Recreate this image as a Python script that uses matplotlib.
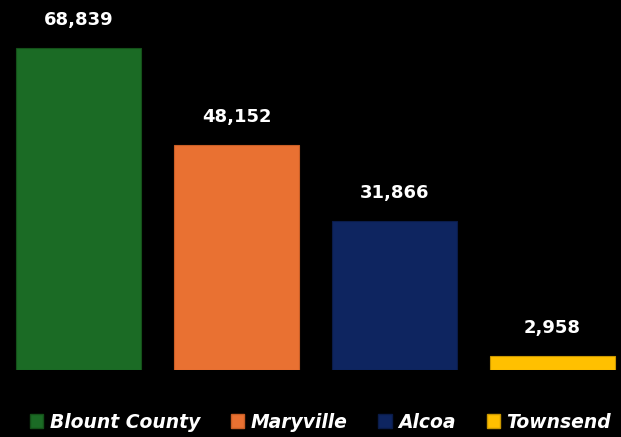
import matplotlib.pyplot as plt
from matplotlib.patches import Patch

places = ['Blount County', 'Maryville', 'Alcoa', 'Townsend']
population = [68839, 48152, 31866, 2958]
colors = ['#1b6b25', '#e97132', '#0e2560', '#ffc000']
edges = ['#145019', '#c95e25', '#0a1b48', '#c99700']

W, H = 621, 437
fig = plt.figure(figsize=(W / 100, H / 100), dpi=100, facecolor='black')
ax = fig.add_axes([0, (H - 370) / H, 1, 370 / H])
ax.set_facecolor('black')

x = range(len(places))
bars = ax.bar(x, population, width=0.785, color=colors, edgecolor=edges, linewidth=0.8)

for xi, v in zip(x, population):
    ax.annotate(f'{v:,}', (xi, v), xytext=(0, 20), textcoords='offset points',
                ha='center', va='center', color='white', fontsize=13,
                fontweight='bold', family='DejaVu Sans')

ax.set_xlim(-78.5 / 158, (W - 78.5) / 158)
ax.set_ylim(0, 68839 * 370 / 322)
ax.axis('off')

handles = [Patch(facecolor=c, edgecolor=e) for c, e in zip(colors, edges)]
fig.legend(handles, places, loc='center', bbox_to_anchor=(0.516, 1 - 422 / H), ncol=4,
           frameon=False, handlelength=0.7, handleheight=0.7, handletextpad=0.35,
           columnspacing=1.65,
           prop={'family': 'DejaVu Sans', 'weight': 'bold', 'style': 'italic', 'size': 13.5},
           labelcolor='white')

fig.savefig('out.png', dpi=100, facecolor='black')
